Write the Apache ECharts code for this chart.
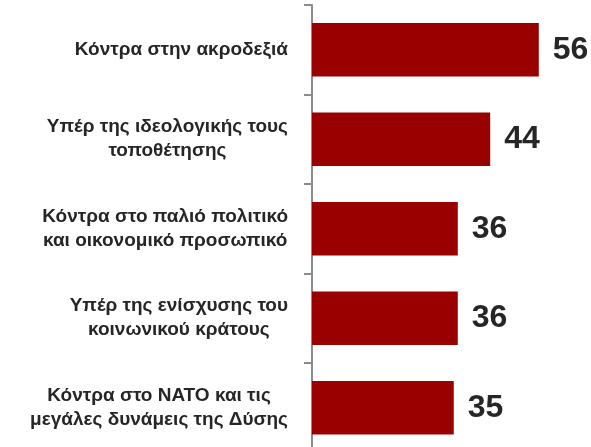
<!DOCTYPE html>
<html>
<head>
<meta charset="utf-8">
<script src="https://cdn.jsdelivr.net/npm/echarts@6/dist/echarts.min.js"></script>
<style>
html,body{margin:0;padding:0;background:#fff;}
#chart{width:591px;height:447px;}
</style>
</head>
<body>
<div id="chart"></div>
<script>
const categories = [
  "Κόντρα στην ακροδεξιά",
  "Υπέρ της ιδεολογικής τους\nτοποθέτησης",
  "Κόντρα στο παλιό πολιτικό\nκαι οικονομικό προσωπικό",
  "Υπέρ της ενίσχυσης του\nκοινωνικού κράτους",
  "Κόντρα στο ΝΑΤΟ και τις\nμεγάλες δυνάμεις της Δύσης"
];
const values = [56, 44, 36, 36, 35];

const chart = echarts.init(document.getElementById('chart'));
chart.setOption({
  animation: false,
  grid: { left: 312, right: 36, top: 5, height: 447.5, outerBoundsMode: 'none', containLabel: false },
  xAxis: { type: 'value', min: 0, max: 60, show: false },
  yAxis: {
    type: 'category',
    inverse: true,
    data: categories,
    axisLine: { show: true, lineStyle: { color: '#8c8c8c', width: 2 } },
    axisTick: { show: true, length: 8, lineStyle: { color: '#8c8c8c', width: 2 } },
    axisLabel: {
      margin: 24,
      align: 'right',
      formatter: v => v.split('\n').map(l => '{c|' + l + '}').join('\n'),
      rich: {
        c: {
          align: 'center',
          fontFamily: 'Liberation Sans, Arial, sans-serif',
          fontWeight: 'bold',
          fontSize: 19,
          lineHeight: 24,
          color: '#262626'
        }
      }
    }
  },
  series: [{
    type: 'bar',
    data: values,
    barCategoryGap: '40%',
    itemStyle: { color: '#990000' },
    label: {
      show: true,
      position: 'right',
      distance: 14,
      fontFamily: 'Liberation Sans, Arial, sans-serif',
      fontWeight: 'bold',
      fontSize: 32,
      color: '#262626'
    }
  }]
});
</script>
</body>
</html>
